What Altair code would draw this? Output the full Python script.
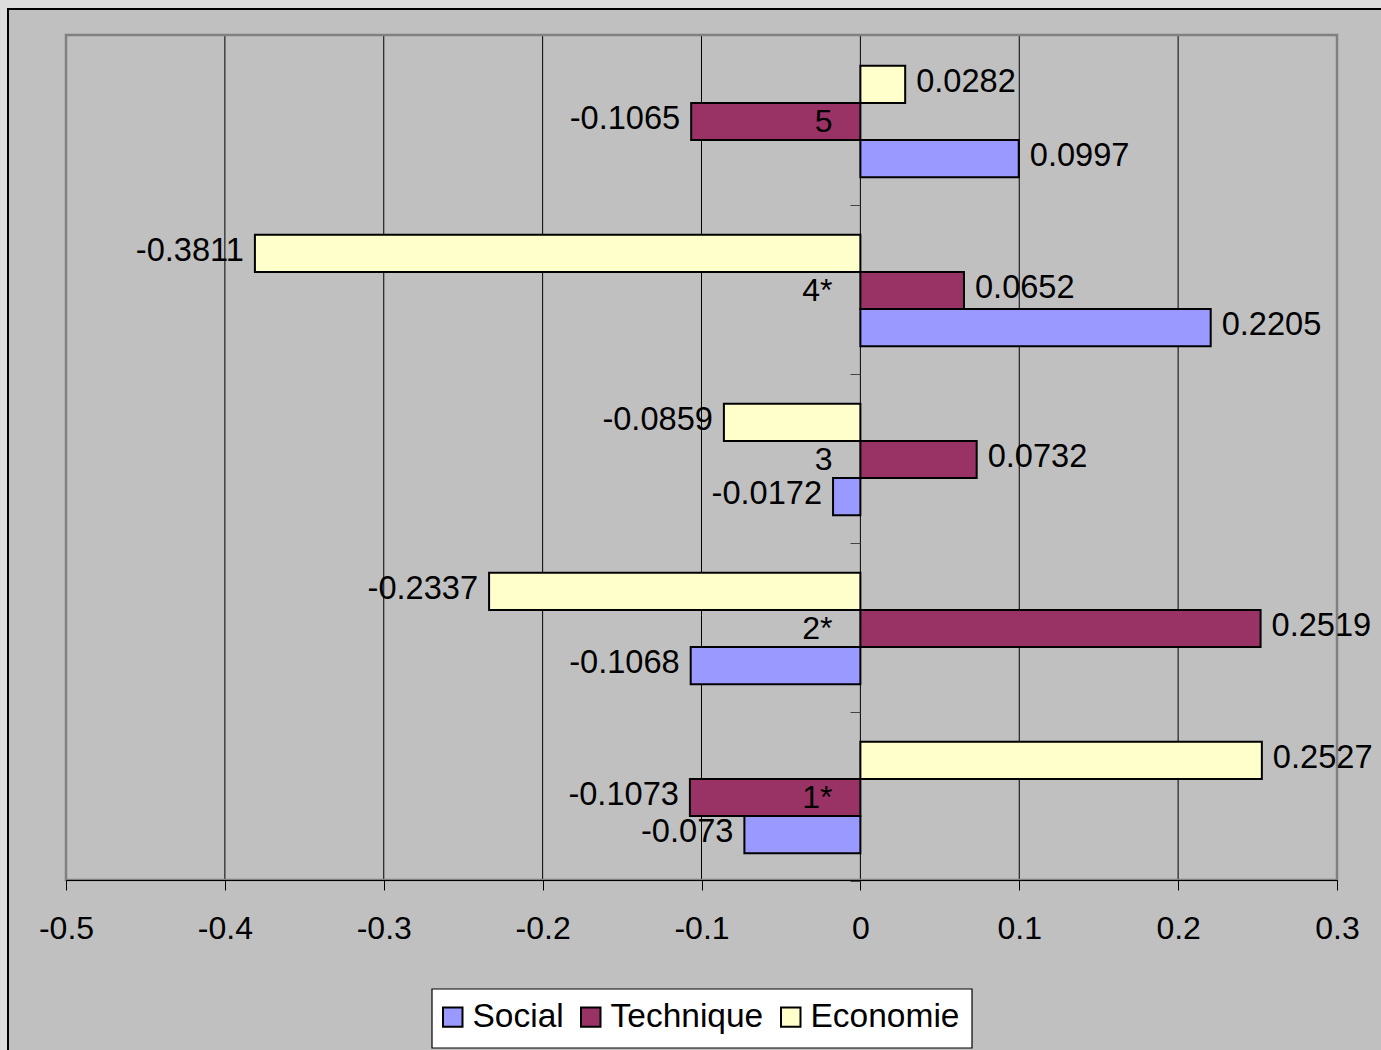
import altair as alt
import pandas as pd

categories = ["5", "4*", "3", "2*", "1*"]
series = ["Social", "Technique", "Economie"]
social = [0.0997, 0.2205, -0.0172, -0.1068, -0.073]
technique = [-0.1065, 0.0652, 0.0732, 0.2519, -0.1073]
economie = [0.0282, -0.3811, -0.0859, -0.2337, 0.2527]
x_ticks = [-0.5, -0.4, -0.3, -0.2, -0.1, 0, 0.1, 0.2, 0.3]
colors = ["#9999FF", "#993366", "#FFFFCC"]

rows = []
for s, vals in zip(series, [social, technique, economie]):
    for c, v in zip(categories, vals):
        rows.append({"cat": c, "series": s, "value": v, "label": str(v)})
df = pd.DataFrame(rows)
grid_df = pd.DataFrame({"value": x_ticks})

W, H = 1271, 845
FONT = "Liberation Sans"
FS = 32
FS_LAB = 32.6

xscale = alt.Scale(domain=[-0.5, 0.3], nice=False, zero=False)
yscale = alt.Scale(paddingInner=0.34, paddingOuter=0.17, align=0.535)
yoff_scale = alt.Scale(paddingInner=0, paddingOuter=0)

x_axis = alt.Axis(values=x_ticks, labelExpr="'' + datum.value", grid=False,
                  tickSize=10, tickColor="black", domainColor="black",
                  labelFontSize=FS, labelFont=FONT, labelColor="black",
                  labelFlush=False, labelOverlap=False,
                  labelPadding=23, title=None, zindex=1)
y_axis = alt.Axis(title=None, domain=False, grid=False, ticks=True,
                  tickBand="center", tickOffset=83, labelOffset=-83,
                  tickSize=10, tickColor="#444444",
                  labelFontSize=FS, labelFont=FONT, labelColor="black",
                  labelPadding=18, offset=-794, zindex=1)

X = alt.X("value:Q", scale=xscale, axis=x_axis)
Y = alt.Y("cat:N", sort=categories, scale=yscale, axis=y_axis)
YO = alt.YOffset("series:N", sort=["Economie", "Technique", "Social"], scale=yoff_scale)

frame = alt.Chart(alt.Data(values=[{}])).mark_rect(
    fill="#C0C0C0", stroke="black", strokeWidth=2
).encode(x=alt.value(-58), x2=alt.value(1400), y=alt.value(-26), y2=alt.value(1100))

grid = alt.Chart(grid_df).mark_rule(color="black", strokeWidth=1).encode(
    x=alt.X("value:Q", scale=xscale, axis=x_axis), y=alt.value(0), y2=alt.value(H)
)

border = alt.Chart(alt.Data(values=[{}])).mark_rect(
    fill=None, fillOpacity=0, stroke="#808080", strokeWidth=2.5
).encode(x=alt.value(0), x2=alt.value(W), y=alt.value(0), y2=alt.value(H))

legend_box = alt.Chart(alt.Data(values=[{}])).mark_rect(
    fill="white", stroke="black", strokeWidth=1.2
).encode(x=alt.value(366), x2=alt.value(906), y=alt.value(954), y2=alt.value(1013))

bars = alt.Chart(df).mark_bar(stroke="black", strokeWidth=2, cornerRadius=0).encode(
    x=X, x2=alt.datum(0), y=Y, yOffset=YO,
    color=alt.Color("series:N", scale=alt.Scale(domain=series, range=colors),
                    legend=alt.Legend(title=None, orient="none", legendX=370, legendY=965,
                                      direction="horizontal", padding=0,
                                      symbolType="square", symbolSize=380,
                                      symbolStrokeColor="black", symbolStrokeWidth=2,
                                      symbolOpacity=1,
                                      labelFontSize=33.5, labelFont=FONT, labelColor="black",
                                      labelOffset=3, columnPadding=10, zindex=1))
)

pos_labels = alt.Chart(df).transform_filter("datum.value >= 0").mark_text(
    align="left", baseline="middle", dx=11, dy=-2.5, fontSize=FS_LAB, font=FONT, color="black"
).encode(x=X, y=Y, yOffset=YO, text="label:N")

neg_labels = alt.Chart(df).transform_filter("datum.value < 0").mark_text(
    align="right", baseline="middle", dx=-11, dy=-2.5, fontSize=FS_LAB, font=FONT, color="black"
).encode(x=X, y=Y, yOffset=YO, text="label:N")

chart = alt.layer(frame, grid, border, legend_box, bars, pos_labels, neg_labels).properties(
    width=W, height=H,
    padding={"left": 66, "top": 35, "right": 44, "bottom": 170},
    autosize=alt.AutoSizeParams(type="none"),
    background="#DDDDDD",
).configure_view(stroke=None)

chart.save("out.html", embed_options={"renderer": "svg", "actions": False})
